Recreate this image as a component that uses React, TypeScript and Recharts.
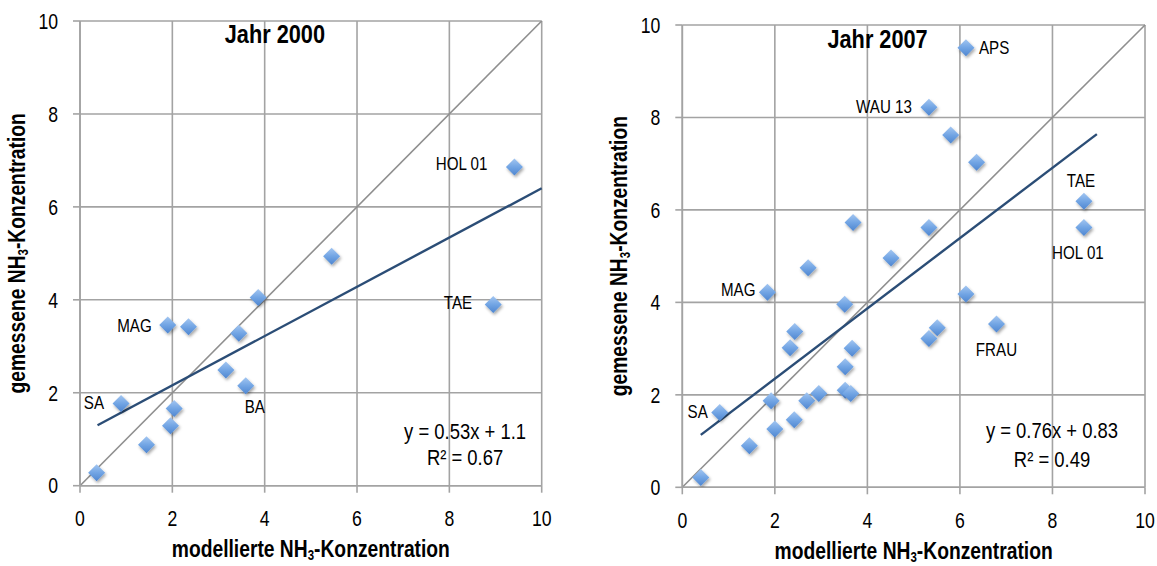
import { ScatterChart, Scatter, XAxis, YAxis, CartesianGrid, ReferenceLine, Label } from "recharts";

const FONT = "'Liberation Sans', Arial, sans-serif";
const GRID = "#a3a3a3";
// Arial-Narrow-Optik: Schrift horizontal stauchen
const STAUCHUNG = 0.82;

const achsenTicks = [0, 2, 4, 6, 8, 10];

// Jahr 2000: modellierte (x) und gemessene (y) NH3-Konzentration
const modell2000 = [0.36, 1.44, 0.89, 1.96, 2.04, 1.9, 2.35, 3.86, 3.44, 3.16, 3.59, 8.95, 9.41, 5.45];
const gemessen2000 = [0.28, 0.88, 1.77, 1.29, 1.66, 3.46, 3.42, 4.05, 3.28, 2.49, 2.15, 3.9, 6.86, 4.94];
const namen2000 = ["", "", "SA", "", "", "MAG", "", "", "", "", "BA", "TAE", "HOL 01", ""];

// Jahr 2007
const modell2007 = [
  0.4, 1.45, 0.81, 2.0, 1.92, 2.42, 2.69, 2.95, 2.33, 2.43, 1.84, 3.51, 3.67, 3.52, 3.52,
  3.64, 3.69, 2.72, 4.51, 6.13, 5.33, 5.8, 6.36, 5.33, 8.68, 8.68, 6.13, 5.51, 5.33, 6.79,
];
const gemessen2007 = [
  0.21, 0.9, 1.62, 1.26, 1.87, 1.46, 1.87, 2.03, 3.02, 3.37, 4.22, 3.96, 3.01, 2.61, 2.1,
  2.03, 5.73, 4.75, 4.96, 9.51, 8.22, 7.62, 7.03, 5.62, 6.19, 5.62, 4.18, 3.45, 3.22, 3.53,
];
const namen2007 = [
  "", "", "SA", "", "", "", "", "", "", "", "MAG", "", "", "", "",
  "", "", "", "", "APS", "WAU 13", "", "", "", "TAE", "HOL 01", "", "", "", "FRAU",
];

// Regressionsgeraden (Steigung, Achsenabschnitt, x-Bereich)
const trend2000 = [0.53, 1.1];
const trendBereich2000 = [0.38, 10];
const trend2007 = [0.76, 0.83];
const trendBereich2007 = [0.4, 8.96];

// Beschriftungslage je Station: [text-anchor, dx, dy]
const lage: Record<string, [string, number, number]> = {
  "2000:SA": ["end", -17, 0],
  "2000:MAG": ["end", -16, 1],
  "2000:BA": ["start", -1, 21],
  "2000:TAE": ["end", -21, -1],
  "2000:HOL 01": ["end", -27, -3],
  "2007:APS": ["start", 13, 0],
  "2007:WAU 13": ["end", -17, 0],
  "2007:TAE": ["middle", -3, -20],
  "2007:HOL 01": ["middle", -6, 25],
  "2007:FRAU": ["middle", 0, 26],
  "2007:MAG": ["end", -12, -2],
  "2007:SA": ["end", -12, 0],
};

const punkte = (xs: number[], ys: number[], namen: string[], jahr: string) =>
  xs.map((x, i) => ({ x, y: ys[i], name: namen[i], jahr }));

// Text mit gestauchter Laufweite
const Schmal = ({ x, y, anchor = "start", size, bold = false, drehen = false, baseline, dy, children }: any) => (
  <g transform={`translate(${x},${y})${drehen ? " rotate(-90)" : ""} scale(${STAUCHUNG},1)`}>
    <text
      x={0}
      y={0}
      dy={dy}
      textAnchor={anchor}
      dominantBaseline={baseline}
      fontFamily={FONT}
      fontSize={size}
      fontWeight={bold ? "bold" : "normal"}
      fill="#000"
    >
      {children}
    </text>
  </g>
);

const YTick = (props: any) => (
  <Schmal x={props.x} y={props.y} anchor="end" size={21.5} dy="0.36em">
    {props.payload.value}
  </Schmal>
);

const XTick = (props: any) => (
  <Schmal x={props.x} y={props.y} anchor="middle" size={21.5} dy="0.71em">
    {props.payload.value}
  </Schmal>
);

const Raute = (props: any) => {
  const { cx, cy, payload } = props;
  if (cx == null || cy == null) return <g />;
  const r = 8.5;
  const pos = payload.name ? lage[`${payload.jahr}:${payload.name}`] : null;
  return (
    <g>
      <polygon
        points={`${cx},${cy - r} ${cx + r},${cy} ${cx},${cy + r} ${cx - r},${cy}`}
        fill="url(#rauteFuellung)"
        filter="url(#rauteSchatten)"
      />
      {pos && (
        <Schmal x={cx + pos[1]} y={cy + pos[2]} anchor={pos[0]} size={18.5} baseline="central">
          {payload.name}
        </Schmal>
      )}
    </g>
  );
};

const Notiz = (props: any) => {
  const { cx, cy, payload } = props;
  if (cx == null || cy == null) return <g />;
  return (
    <Schmal x={cx} y={cy} anchor="middle" size={payload.fett ? 26.5 : 22.5} bold={payload.fett}>
      {payload.text}
    </Schmal>
  );
};

const Titeltext = () => (
  <>
    NH<tspan fontSize={14} dy={3}>3</tspan>
    <tspan dy={-3}>-Konzentration</tspan>
  </>
);

const YTitel = (props: any) => {
  const { x, y, width, height } = props.viewBox;
  return (
    <Schmal x={x + width - 55} y={y + height / 2} anchor="middle" size={23.5} bold drehen>
      gemessene <Titeltext />
    </Schmal>
  );
};

const XTitel = (props: any) => {
  const { x, y, width } = props.viewBox;
  return (
    <Schmal x={x + width / 2} y={y + 71.5} anchor="middle" size={23.5} bold>
      modellierte <Titeltext />
    </Schmal>
  );
};

interface PanelProps {
  daten: { x: number; y: number; name: string; jahr: string }[];
  notizen: { x: number; y: number; text: string; fett?: boolean }[];
  trend: number[];
  bereich: number[];
  width: number;
  margin: { top: number; right: number; bottom: number; left: number };
}

function Panel({ daten, notizen, trend, bereich, width, margin }: PanelProps) {
  const [m, b] = trend;
  return (
    <ScatterChart width={width} height={566} margin={margin}>
      <defs>
        <linearGradient id="rauteFuellung" x1="0" y1="0" x2="0" y2="1">
          <stop offset="0%" stopColor="#a3c6f1" />
          <stop offset="50%" stopColor="#72a5e4" />
          <stop offset="100%" stopColor="#4f86d0" />
        </linearGradient>
        <filter id="rauteSchatten" x="-50%" y="-50%" width="200%" height="200%">
          <feDropShadow dx="1.2" dy="2" stdDeviation="1.4" floodColor="#000" floodOpacity="0.35" />
        </filter>
      </defs>
      <CartesianGrid stroke={GRID} strokeWidth={1.6} />
      <XAxis
        type="number"
        dataKey="x"
        domain={[0, 10]}
        ticks={achsenTicks}
        allowDataOverflow
        height={60}
        axisLine={{ stroke: GRID, strokeWidth: 1.6 }}
        tickLine={{ stroke: GRID, strokeWidth: 1.6 }}
        tickSize={7}
        tickMargin={18}
        tick={<XTick />}
      >
        <Label content={<XTitel />} />
      </XAxis>
      <YAxis
        type="number"
        dataKey="y"
        domain={[0, 10]}
        ticks={achsenTicks}
        allowDataOverflow
        width={80}
        axisLine={{ stroke: GRID, strokeWidth: 1.6 }}
        tickLine={{ stroke: GRID, strokeWidth: 1.6 }}
        tickSize={7}
        tickMargin={15}
        tick={<YTick />}
      >
        <Label content={<YTitel />} />
      </YAxis>
      <ReferenceLine
        segment={[
          { x: 0, y: 0 },
          { x: 10, y: 10 },
        ]}
        stroke="#8f8f8f"
        strokeWidth={1.6}
      />
      <ReferenceLine
        segment={[
          { x: bereich[0], y: m * bereich[0] + b },
          { x: bereich[1], y: m * bereich[1] + b },
        ]}
        stroke="#2b4d76"
        strokeWidth={2.4}
      />
      <Scatter data={daten} shape={<Raute />} isAnimationActive={false} />
      <Scatter data={notizen} shape={<Notiz />} isAnimationActive={false} />
    </ScatterChart>
  );
}

const notizen2000 = [
  { x: 4.22, y: 9.52, text: "Jahr 2000", fett: true },
  { x: 8.34, y: 1.0, text: "y = 0.53x + 1.1" },
  { x: 8.34, y: 0.445, text: "R² = 0.67" },
];
const notizen2007 = [
  { x: 4.22, y: 9.5, text: "Jahr 2007", fett: true },
  { x: 7.99, y: 1.06, text: "y = 0.76x + 0.83" },
  { x: 7.99, y: 0.446, text: "R² = 0.49" },
];

export default function App() {
  return (
    <div style={{ position: "absolute", left: 0, top: 0, width: 1157, height: 566, background: "#fff" }}>
      <div style={{ position: "absolute", left: 0, top: 0 }}>
        <Panel
          daten={punkte(modell2000, gemessen2000, namen2000, "2000")}
          notizen={notizen2000}
          trend={trend2000}
          bereich={trendBereich2000}
          width={580}
          margin={{ top: 21, right: 38.3, bottom: 20.3, left: 0 }}
        />
      </div>
      <div style={{ position: "absolute", left: 580, top: 0 }}>
        <Panel
          daten={punkte(modell2007, gemessen2007, namen2007, "2007")}
          notizen={notizen2007}
          trend={trend2007}
          bereich={trendBereich2007}
          width={577}
          margin={{ top: 25, right: 12, bottom: 18.7, left: 22.3 }}
        />
      </div>
    </div>
  );
}
